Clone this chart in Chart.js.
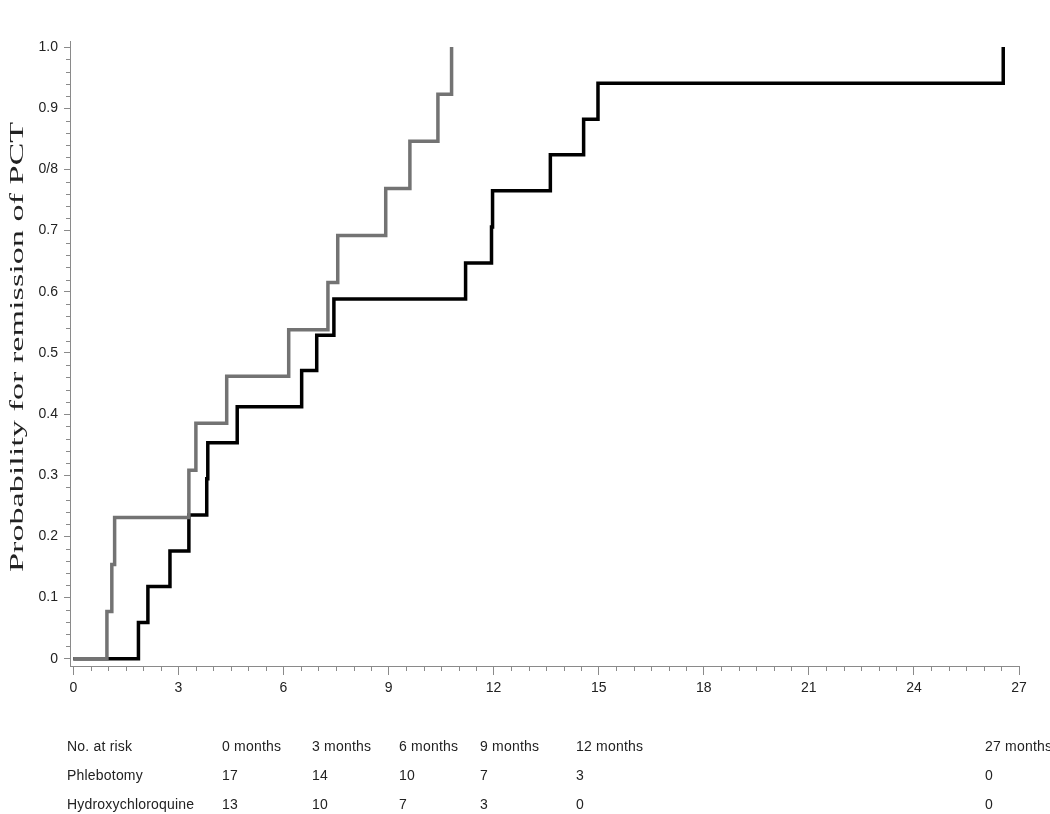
<!DOCTYPE html>
<html>
<head>
<meta charset="utf-8">
<script src="https://cdn.jsdelivr.net/npm/chart.js@4.4.1/dist/chart.umd.min.js"></script>
<style>
  html, body { margin: 0; padding: 0; background: #fff; }
  #wrap { position: relative; width: 1050px; height: 814px; }
  #kmChart { position: absolute; left: 0; top: 0; }
  .risk { position: absolute; font-family: "Liberation Sans", Arial, sans-serif; font-size: 14px;
          color: #222; letter-spacing: 0.2px; white-space: nowrap; line-height: 16px; }
</style>
</head>
<body>
<div id="wrap">
  <canvas id="kmChart" width="1050" height="814"></canvas>
</div>
<script>
// Kaplan-Meier step data (months, cumulative probability of remission)
const hcqTimes  = [0, 0.96, 1.10, 1.18, 3.30, 3.50, 4.38, 6.15, 7.27, 7.55, 8.92, 9.61, 10.41, 10.80];
const hcqProb   = [0, 0.077, 0.154, 0.231, 0.308, 0.385, 0.462, 0.538, 0.615, 0.692, 0.769, 0.846, 0.923, 1.0];
const phlebTimes = [0, 1.86, 2.13, 2.76, 3.30, 3.81, 3.84, 4.68, 6.52, 6.95, 7.44, 11.20, 11.94, 11.97, 13.62, 14.57, 14.98, 26.55];
const phlebProb  = [0, 0.059, 0.118, 0.176, 0.235, 0.294, 0.353, 0.412, 0.471, 0.529, 0.588, 0.647, 0.706, 0.765, 0.824, 0.882, 0.941, 1.0];

const xTicks = [0, 3, 6, 9, 12, 15, 18, 21, 24, 27];
const yTicks = [0, 0.1, 0.2, 0.3, 0.4, 0.5, 0.6, 0.7, 0.8, 0.9, 1.0];
const yTickLabels = ['0', '0.1', '0.2', '0.3', '0.4', '0.5', '0.6', '0.7', '0/8', '0.9', '1.0'];
const yTitle = 'Probability for remission of PCT';

// number at risk table
const riskHeader = ['0 months', '3 months', '6 months', '9 months', '12 months', '27 months'];
const riskPhleb  = ['17', '14', '10', '7', '3', '0'];
const riskHcq    = ['13', '10', '7', '3', '0', '0'];
const riskRowNames = ['No. at risk', 'Phlebotomy', 'Hydroxychloroquine'];

const toPoints = (xs, ys) => xs.map((x, i) => ({ x: x, y: ys[i] }));

// minor tick marks on both axes
const minorTicks = {
    id: 'minorTicks',
    afterDraw(chart) {
        const c = chart.ctx;
        const xs = chart.scales.x, ys = chart.scales.y;
        c.save();
        c.strokeStyle = '#8a8a8a';
        c.lineWidth = 1;
        c.beginPath();
        for (let v = 0.5; v < 27; v += 0.5) {
            if (v % 3 === 0) continue;
            const px = Math.round(xs.getPixelForValue(v)) + 0.5;
            c.moveTo(px, xs.top);
            c.lineTo(px, xs.top + 5);
        }
        for (let k = 1; k < 50; k++) {
            if (k % 5 === 0) continue;
            const py = Math.round(ys.getPixelForValue(k * 0.02)) + 0.5;
            c.moveTo(ys.right - 4, py);
            c.lineTo(ys.right, py);
        }
        c.stroke();
        c.restore();
    }
};

// stretched vertical axis title (the original is drawn elongated)
const stretchedTitle = {
    id: 'stretchedTitle',
    afterDraw(chart) {
        const c = chart.ctx;
        const ys = chart.scales.y;
        c.save();
        c.translate(18, ys.getPixelForValue(0.5) - 6);
        c.rotate(-Math.PI / 2);
        c.scale(1.8, 1);
        c.font = '19px "Liberation Serif"';
        c.fillStyle = '#222';
        c.textAlign = 'center';
        c.textBaseline = 'middle';
        c.fillText(yTitle, 0, 0);
        c.restore();
    }
};

const ctx = document.getElementById('kmChart').getContext('2d');
const kmChart = new Chart(ctx, {
    type: 'line',
    data: {
        datasets: [{
            label: 'Phlebotomy',
            data: toPoints(phlebTimes, phlebProb),
            borderColor: '#000000',
            borderWidth: 3.5,
            stepped: 'before',
            pointRadius: 0,
            fill: false,
            order: 1
        }, {
            label: 'Hydroxychloroquine',
            data: toPoints(hcqTimes, hcqProb),
            borderColor: '#737373',
            borderWidth: 3.5,
            stepped: 'before',
            pointRadius: 0,
            fill: false,
            order: 0
        }]
    },
    options: {
        responsive: false,
        animation: false,
        layout: { padding: { top: 41, right: 31, bottom: 0, left: 0 } },
        plugins: { legend: { display: false }, tooltip: { enabled: false } },
        scales: {
            x: {
                type: 'linear',
                min: -0.094,
                max: 27,
                afterBuildTicks: (s) => { s.ticks = xTicks.map(v => ({ value: v })); },
                afterFit: (s) => { s.height = 148; },
                grid: { drawOnChartArea: false, tickLength: 9, color: '#8a8a8a' },
                border: { color: '#8a8a8a', width: 1 },
                ticks: {
                    padding: 5,
                    color: '#222',
                    font: { family: 'Liberation Sans', size: 14 },
                    maxRotation: 0,
                    callback: (v) => String(v)
                }
            },
            y: {
                min: -0.012,
                max: 1.01,
                afterBuildTicks: (s) => { s.ticks = yTicks.map(v => ({ value: v })); },
                afterFit: (s) => { s.width = 70; },
                grid: { drawOnChartArea: false, tickLength: 6, color: '#8a8a8a' },
                border: { color: '#8a8a8a', width: 1 },
                ticks: {
                    padding: 6,
                    color: '#222',
                    font: { family: 'Liberation Sans', size: 14 },
                    callback: (v) => {
                        const i = yTicks.findIndex(t => Math.abs(t - v) < 1e-6);
                        return i >= 0 ? yTickLabels[i] : '';
                    }
                }
            }
        }
    },
    plugins: [minorTicks, stretchedTitle]
});

// number-at-risk table under the axis
const wrap = document.getElementById('wrap');
const colX = [222, 312, 399, 480, 576, 985];
const rowY = [738, 767, 796];
const rows = [riskHeader, riskPhleb, riskHcq];
rows.forEach((row, r) => {
    const name = document.createElement('div');
    name.className = 'risk';
    name.style.left = '67px';
    name.style.top = rowY[r] + 'px';
    name.textContent = riskRowNames[r];
    wrap.appendChild(name);
    row.forEach((txt, c) => {
        const d = document.createElement('div');
        d.className = 'risk';
        d.style.left = colX[c] + 'px';
        d.style.top = rowY[r] + 'px';
        d.textContent = txt;
        wrap.appendChild(d);
    });
});
</script>
</body>
</html>
